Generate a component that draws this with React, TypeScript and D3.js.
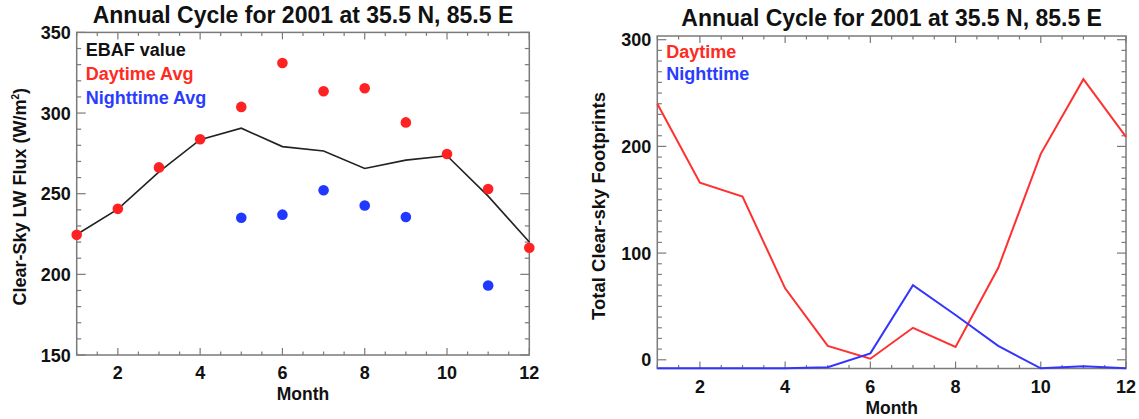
import React from 'react';
import * as d3 from 'd3';

// monthly values
const months = [1, 2, 3, 4, 5, 6, 7, 8, 9, 10, 11, 12];
const ebafFlux = [224.7, 240.4, 263.5, 283.5, 290.6, 279.2, 276.5, 265.6, 270.8, 273.5, 248.5, 220];
const dayFlux = [224.5, 240.6, 266.3, 283.8, 303.8, 331, 313.5, 315.4, 294.2, 274.6, 252.9, 216.5];
const nightMonths = [5, 6, 7, 8, 9, 11];
const nightFlux = [235.1, 237, 252.1, 242.7, 235.6, 193.1];
const dayCount = [240, 166, 153, 67, 13, 1, 30, 12, 86, 193, 263, 209];
const nightCount = [-8, -8, -8, -8, -7, 6, 70, 42, 13, -8, -6, -8];

const monthTicks = [2, 4, 6, 8, 10, 12];
const fluxTicks = [150, 200, 250, 300, 350];
const countTicks = [0, 100, 200, 300];

const titleText = 'Annual Cycle for 2001 at 35.5 N, 85.5 E';
const fluxLegend = [
  { label: 'EBAF value', color: '#111111' },
  { label: 'Daytime Avg', color: '#ff2a22' },
  { label: 'Nighttime Avg', color: '#2a3cff' },
];
const countLegend = [
  { label: 'Daytime', color: '#ff2a22' },
  { label: 'Nighttime', color: '#2a3cff' },
];

const FONT = '"Liberation Sans", Arial, Helvetica, sans-serif';
const RED = '#ff2222';
const BLUE = '#2038ff';
const FRAME = '#7a7a7a';

type Box = { l: number; r: number; t: number; b: number };

function Frame({ box, x, y, yTicks, yMinorStep }: {
  box: Box;
  x: d3.ScaleLinear<number, number>;
  y: d3.ScaleLinear<number, number>;
  yTicks: number[];
  yMinorStep: number;
}) {
  const yLo = y.invert(box.b);
  const yHi = y.invert(box.t);
  const xMinor = d3.range(1, 12.01, 0.5).filter((m) => !monthTicks.includes(m));
  const yMinor = d3.range(Math.ceil(yLo / yMinorStep) * yMinorStep, yHi + 0.01, yMinorStep)
    .filter((v) => !yTicks.includes(v));
  const segs: [number, number, number, number][] = [];
  monthTicks.forEach((m) => {
    segs.push([x(m), box.b, x(m), box.b - 7]);
    segs.push([x(m), box.t, x(m), box.t + 7]);
  });
  xMinor.forEach((m) => {
    segs.push([x(m), box.b, x(m), box.b - 3.5]);
    segs.push([x(m), box.t, x(m), box.t + 3.5]);
  });
  yTicks.forEach((v) => {
    segs.push([box.l, y(v), box.l + 9, y(v)]);
    segs.push([box.r, y(v), box.r - 9, y(v)]);
  });
  yMinor.forEach((v) => {
    segs.push([box.l, y(v), box.l + 4.5, y(v)]);
    segs.push([box.r, y(v), box.r - 4.5, y(v)]);
  });
  return (
    <g>
      {segs.map((s, i) => (
        <line key={i} x1={s[0]} y1={s[1]} x2={s[2]} y2={s[3]} stroke={FRAME} strokeWidth={1.2} />
      ))}
      <rect x={box.l} y={box.t} width={box.r - box.l} height={box.b - box.t}
        fill="none" stroke={FRAME} strokeWidth={1.5} />
      {monthTicks.map((m) => (
        <text key={'xm' + m} x={x(m)} y={box.b + 24} textAnchor="middle" fontSize={18}>{m}</text>
      ))}
      {yTicks.map((v) => (
        <text key={'yt' + v} x={box.l - 6} y={y(v) + 6.5} textAnchor="end" fontSize={18}>{v}</text>
      ))}
    </g>
  );
}

function FluxPanel() {
  const box: Box = { l: 76.7, r: 529.3, t: 32.4, b: 355 };
  const x = d3.scaleLinear().domain([1, 12]).range([box.l, box.r]);
  const y = d3.scaleLinear().domain([150, 350]).range([box.b, box.t]);
  const line = d3.line<number>().x((_, i) => x(months[i])).y((d) => y(d));
  return (
    <g>
      <text x={(box.l + box.r) / 2} y={23} textAnchor="middle" fontSize={23}>{titleText}</text>
      <Frame box={box} x={x} y={y} yTicks={fluxTicks} yMinorStep={10} />
      <path d={line(ebafFlux) || ''} fill="none" stroke="#222" strokeWidth={1.6} />
      {dayFlux.map((v, i) => (
        <circle key={'d' + i} cx={x(months[i])} cy={y(v)} r={5.3} fill={RED} />
      ))}
      {nightFlux.map((v, i) => (
        <circle key={'n' + i} cx={x(nightMonths[i])} cy={y(v)} r={5.3} fill={BLUE} />
      ))}
      {fluxLegend.map((d, i) => (
        <text key={d.label} x={box.l + 9} y={56 + i * 24} fontSize={18} fill={d.color}>{d.label}</text>
      ))}
      <text x={box.l - 51} y={(box.t + box.b) / 2 + 3} fontSize={18} textAnchor="middle"
        transform={`rotate(-90, ${box.l - 51}, ${(box.t + box.b) / 2 + 3})`}>
        Clear-Sky LW Flux (W/m<tspan dy={-7} fontSize={10}>2</tspan><tspan dy={7}>)</tspan>
      </text>
      <text x={(box.l + box.r) / 2} y={400} textAnchor="middle" fontSize={17.5}>Month</text>
    </g>
  );
}

function CountPanel() {
  const box: Box = { l: 657.3, r: 1126, t: 36, b: 368.5 };
  const x = d3.scaleLinear().domain([1, 12]).range([box.l, box.r]);
  const y = d3.scaleLinear().domain([0, 300]).range([359.8, 39.7]);
  const line = d3.line<number>().x((_, i) => x(months[i])).y((d) => y(d));
  return (
    <g>
      <text x={(box.l + box.r) / 2} y={26} textAnchor="middle" fontSize={23}>{titleText}</text>
      <Frame box={box} x={x} y={y} yTicks={countTicks} yMinorStep={10} />
      <path d={line(dayCount) || ''} fill="none" stroke="#ff3030" strokeWidth={2} />
      <path d={line(nightCount) || ''} fill="none" stroke="#3434ff" strokeWidth={2} />
      {countLegend.map((d, i) => (
        <text key={d.label} x={box.l + 9} y={58 + i * 22} fontSize={18} fill={d.color}>{d.label}</text>
      ))}
      <text x={605} y={206} fontSize={18.5} textAnchor="middle"
        transform="rotate(-90, 605, 206)">Total Clear-sky Footprints</text>
      <text x={(box.l + box.r) / 2} y={414} textAnchor="middle" fontSize={17.5}>Month</text>
    </g>
  );
}

export default function App() {
  return (
    <svg width={1139} height={419} style={{ position: 'absolute', left: 0, top: 0, background: '#fff' }}
      fontFamily={FONT} fontWeight="bold" fill="#111">
      <FluxPanel />
      <CountPanel />
    </svg>
  );
}
